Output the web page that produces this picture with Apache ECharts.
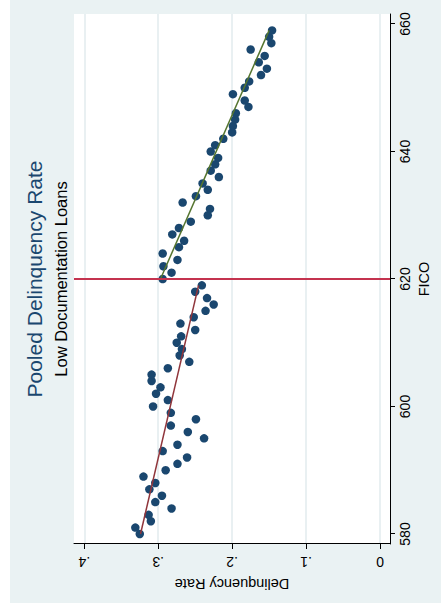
<!DOCTYPE html>
<html><head><meta charset="utf-8">
<script src="https://cdn.jsdelivr.net/npm/echarts@6/dist/echarts.min.js"></script>
<style>
html,body{margin:0;padding:0;background:#fff;width:441px;height:605px;overflow:hidden}
#rot{position:absolute;left:0;top:0;width:605px;height:441px;transform-origin:0 0;transform:translate(0,605px) rotate(-90deg)}
#bg{position:absolute;left:2px;top:10px;width:603px;height:431px;background:#EAF2F3}
#chart{position:absolute;left:0;top:0;width:605px;height:441px}
</style></head><body>
<div id="rot"><div id="bg"></div><div id="chart"></div></div>
<script>
// FICO score bins
const ficoScores = [580,581,582,583,584,585,586,587,588,589,
                    590,591,592,593,594,595,596,597,598,599,
                    600,601,602,603,604,605,606,607,608,609,
                    610,611,612,613,614,615,616,617,618,619,
                    620,621,622,623,624,625,626,627,628,629,
                    630,631,632,633,634,635,636,637,638,639,
                    640,641,642,643,644,645,646,647,648,649,
                    650,651,652,653,654,655,656,657,658,659];
// pooled delinquency rate per FICO score
const delinquencyRates = [0.325,0.331,0.310,0.313,0.282,0.304,0.295,0.312,0.304,0.320,
                          0.290,0.274,0.261,0.294,0.274,0.238,0.260,0.283,0.249,0.283,
                          0.307,0.287,0.303,0.297,0.309,0.309,0.287,0.258,0.271,0.268,
                          0.275,0.269,0.250,0.270,0.252,0.236,0.225,0.234,0.250,0.241,
                          0.294,0.282,0.293,0.274,0.294,0.272,0.265,0.281,0.272,0.256,
                          0.233,0.230,0.267,0.249,0.233,0.240,0.218,0.229,0.223,0.219,
                          0.229,0.223,0.212,0.200,0.199,0.196,0.195,0.178,0.183,0.199,
                          0.183,0.177,0.161,0.153,0.164,0.156,0.175,0.147,0.150,0.146];
// linear fit below the cutoff
const fitLowFico = [580, 619];
const fitLowRate = [0.324, 0.2455];
// linear fit above the cutoff
const fitHighFico = [620, 659];
const fitHighRate = [0.297, 0.150];
// FICO cutoff reference line
const cutoffFico = [620];
// tick labels
const ficoTicks = [580, 600, 620, 640, 660];
const rateTicks = [0, 0.1, 0.2, 0.3, 0.4];
const rateTickLabels = ['0', '.1', '.2', '.3', '.4'];

const FONT = 'Liberation Sans, Arial, sans-serif';
const chart = echarts.init(document.getElementById('chart'), null, {renderer: 'svg'});
const option = {
  animation: false,
  title: [
    {text: 'Pooled Delinquency Rate', left: 326, top: 24, textAlign: 'center', padding: 0,
     textStyle: {fontFamily: FONT, fontSize: 21, fontWeight: 'normal', color: '#1A476F'}},
    {text: 'Low Documentation Loans', left: 326, top: 52, textAlign: 'center', padding: 0,
     textStyle: {fontFamily: FONT, fontSize: 16.5, fontWeight: 'normal', color: '#000'}}
  ],
  grid: {left: 61, right: 14, top: 74, bottom: 51, show: true, backgroundColor: '#fff', borderWidth: 0},
  xAxis: {
    type: 'value', min: 578.43, max: 661.57, position: 'bottom',
    axisLine: {show: true, onZero: false, lineStyle: {color: '#000', width: 1}},
    axisTick: {show: true, length: 5, customValues: ficoTicks, lineStyle: {color: '#000'}},
    axisLabel: {customValues: ficoTicks, margin: 8, fontSize: 14, fontFamily: FONT, color: '#000'},
    splitLine: {show: false},
    name: 'FICO', nameLocation: 'middle', nameGap: 24,
    nameTextStyle: {fontFamily: FONT, fontSize: 14.5, color: '#000'}
  },
  yAxis: {
    type: 'value', min: -0.01353, max: 0.41398, position: 'left',
    axisLine: {show: true, onZero: false, lineStyle: {color: '#000', width: 1}},
    axisTick: {show: true, length: 5, customValues: rateTicks, lineStyle: {color: '#000'}},
    axisLabel: {customValues: rateTicks, rotate: 90, margin: 11, fontSize: 14, fontFamily: FONT, color: '#000',
      formatter: function (v) {
        for (let i = 0; i < rateTicks.length; i++) if (Math.abs(rateTicks[i] - v) < 1e-9) return rateTickLabels[i];
        return '';
      }},
    splitLine: {show: true, lineStyle: {color: '#E2EBEE', width: 1.5}},
    name: 'Delinquency Rate', nameLocation: 'middle', nameGap: 25, nameRotate: 90,
    nameTextStyle: {fontFamily: FONT, fontSize: 14.5, color: '#000'}
  },
  series: [
    {type: 'line', name: 'cutoff', data: [], z: 1, silent: true,
     markLine: {silent: true, symbol: 'none', label: {show: false},
       lineStyle: {color: '#C4334F', width: 2, type: 'solid', opacity: 1},
       data: cutoffFico.map(v => ({xAxis: v}))}},
    {type: 'scatter', name: 'rate', z: 2, symbol: 'circle', symbolSize: 8.5,
     itemStyle: {color: '#1A476F', opacity: 1},
     data: ficoScores.map((f, i) => [f, delinquencyRates[i]])},
    {type: 'line', name: 'fitLow', z: 3, showSymbol: false, symbol: 'none',
     lineStyle: {color: '#90353B', width: 1.5},
     data: fitLowFico.map((f, i) => [f, fitLowRate[i]])},
    {type: 'line', name: 'fitHigh', z: 3, showSymbol: false, symbol: 'none',
     lineStyle: {color: '#55752F', width: 1.5},
     data: fitHighFico.map((f, i) => [f, fitHighRate[i]])}
  ]
};
chart.setOption(option);
</script>
</body></html>
